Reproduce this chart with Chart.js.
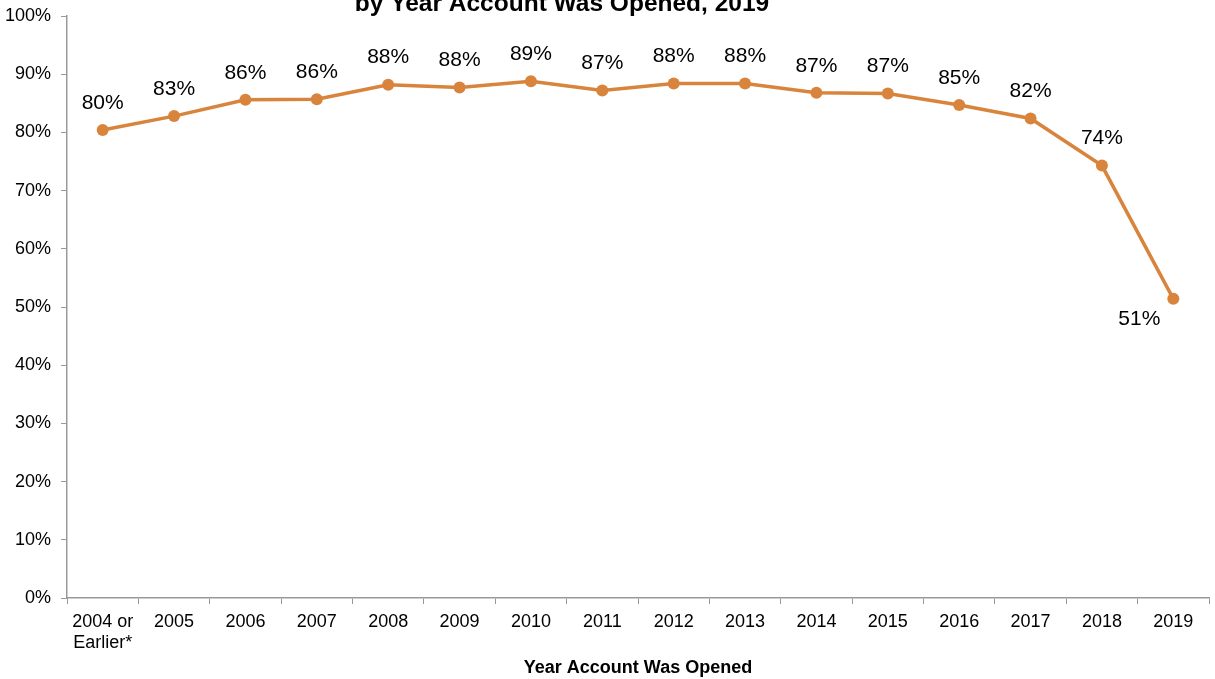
<!DOCTYPE html>
<html>
<head>
<meta charset="utf-8">
<script src="https://cdn.jsdelivr.net/npm/chart.js@4/dist/chart.umd.min.js"></script>
<style>
  html, body { margin: 0; padding: 0; background: #fff; }
  #wrap { width: 1215px; height: 679px; position: relative; }
</style>
</head>
<body>
<div id="wrap"><canvas id="retention-chart"></canvas></div>
<script>
// share of accounts still open, by year the account was opened
const years = [['2004 or', 'Earlier*'], '2005', '2006', '2007', '2008', '2009', '2010', '2011',
  '2012', '2013', '2014', '2015', '2016', '2017', '2018', '2019'];
const sharePct = [80.4, 82.8, 85.6, 85.7, 88.2, 87.7, 88.8, 87.2, 88.4, 88.4, 86.8, 86.7, 84.7, 82.4, 74.3, 51.4];
const yTicks = [0, 10, 20, 30, 40, 50, 60, 70, 80, 90, 100];

const titleText = 'by Year Account Was Opened, 2019';
const xTitle = 'Year Account Was Opened';

const lineColor = '#D9843D';
const fontFamily = '"Liberation Sans", Arial, sans-serif';

// value labels over each point, the last one sits below-left
const pointLabels = {
    id: 'pointLabels',
    afterDatasetsDraw(chart) {
        const ctx = chart.ctx;
        const meta = chart.getDatasetMeta(0);
        ctx.save();
        ctx.font = '21px ' + fontFamily;
        ctx.fillStyle = '#000';
        ctx.textAlign = 'center';
        ctx.textBaseline = 'middle';
        meta.data.forEach(function(pt, i) {
            const txt = Math.round(sharePct[i]) + '%';
            if (i === meta.data.length - 1)
                ctx.fillText(txt, pt.x - 34, pt.y + 20);
            else
                ctx.fillText(txt, pt.x, pt.y - 27);
        });
        ctx.restore();
    }
};

// the heading runs off the top edge, so it is painted by hand
const cutTitle = {
    id: 'cutTitle',
    afterDraw(chart) {
        const ctx = chart.ctx;
        ctx.save();
        ctx.font = 'bold 24.5px ' + fontFamily;
        ctx.fillStyle = '#000';
        ctx.textAlign = 'center';
        ctx.textBaseline = 'alphabetic';
        ctx.fillText(titleText, 562, 11);
        ctx.restore();
    }
};

new Chart(document.getElementById('retention-chart'), {
    type: 'line',
    data: {
        labels: years,
        datasets: [{
            data: sharePct,
            borderColor: lineColor,
            backgroundColor: lineColor,
            pointBackgroundColor: lineColor,
            pointBorderColor: lineColor,
            borderWidth: 3.5,
            pointRadius: 6,
            pointBorderWidth: 0,
            tension: 0
        }]
    },
    options: {
        responsive: true,
        maintainAspectRatio: false,
        animation: false,
        layout: { padding: { top: 16, right: 3, left: 0, bottom: 0 } },
        plugins: {
            legend: { display: false },
            tooltip: { enabled: false },
            title: { display: false }
        },
        scales: {
            x: {
                offset: true,
                grid: {
                    offset: true,
                    drawOnChartArea: false,
                    color: '#999',
                    tickLength: 6
                },
                border: { color: '#999', width: 1.5 },
                ticks: {
                    color: '#000',
                    font: { family: fontFamily, size: 18 },
                    maxRotation: 0,
                    autoSkip: false,
                    padding: 7
                },
                title: {
                    display: true,
                    text: xTitle,
                    color: '#000',
                    font: { family: fontFamily, size: 18, weight: 'bold' },
                    padding: { top: 4, bottom: 0 }
                },
                afterFit(scale) { scale.height = 81; }
            },
            y: {
                min: 0,
                max: 100,
                afterBuildTicks(scale) {
                    scale.ticks = yTicks.map(v => ({ value: v }));
                },
                grid: {
                    drawOnChartArea: false,
                    color: '#999',
                    tickLength: 6
                },
                border: { color: '#999', width: 1.5 },
                ticks: {
                    color: '#000',
                    font: { family: fontFamily, size: 18 },
                    padding: 10,
                    callback: v => v + '%'
                },
                afterFit(scale) {
                    scale.width = 67;
                    scale.paddingTop = 0;
                    scale.paddingBottom = 0;
                }
            }
        }
    },
    plugins: [pointLabels, cutTitle]
});
</script>
</body>
</html>
